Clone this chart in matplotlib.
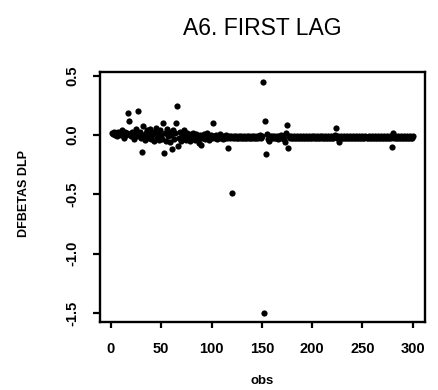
import matplotlib
matplotlib.use("Agg")
import matplotlib.pyplot as plt
from matplotlib.ticker import FormatStrFormatter

plt.rcParams['font.family'] = ['Liberation Sans', 'DejaVu Sans']
plt.rcParams['axes.unicode_minus'] = False

title = "A6. FIRST LAG"
x_label = "obs"
y_label = "DFBETAS DLP"
x_ticks = [0, 50, 100, 150, 200, 250, 300]
y_ticks = [-1.5, -1.0, -0.5, 0.0, 0.5]

# DFBETAS for obs 1..300
dfbetas = [
    0.02, 0.01, 0.03, 0.00, 0.02, -0.01, 0.03, 0.01, 0.02, 0.00,
    0.04, 0.01, -0.02, 0.03, 0.00, 0.02, 0.19, 0.12, 0.01, -0.01,
    0.03, 0.00, -0.03, 0.02, 0.05, -0.01, 0.20, 0.01, 0.03, -0.02,
    -0.14, 0.08, 0.00, -0.04, 0.02, 0.04, -0.02, 0.01, 0.05, -0.03,
    0.00, 0.03, -0.05, 0.02, 0.06, -0.02, 0.01, -0.04, 0.04, 0.00,
    -0.03, 0.10, -0.15, 0.02, -0.05, 0.05, -0.01, 0.03, -0.06, 0.00,
    -0.12, 0.04, -0.03, 0.02, 0.10, 0.25, -0.09, -0.02, 0.03, -0.05,
    0.01, -0.03, 0.04, -0.01, -0.04, 0.02, -0.02, 0.00, -0.05, 0.01,
    -0.03, 0.02, -0.02, -0.04, 0.01, -0.01, -0.03, -0.07, 0.00, -0.085,
    -0.02, 0.01, -0.03, -0.01, 0.02, -0.02, -0.04, -0.01, 0.00, -0.02,
    0.10, -0.01, -0.02, 0.00, -0.03, -0.01, -0.02, 0.01, -0.02, -0.01,
    -0.03, -0.01, -0.02, 0.00, -0.02, -0.11, -0.01, -0.02, -0.01, -0.49,
    -0.02, -0.01, -0.02, -0.01, -0.02, -0.02, -0.01, -0.02, -0.01, -0.02,
    -0.02, -0.01, -0.02, -0.02, -0.01, -0.02, -0.01, -0.02, -0.02, -0.01,
    -0.02, -0.01, -0.02, -0.02, -0.01, -0.02, -0.01, 0.00, -0.02, -0.01,
    0.45, -1.50, 0.12, -0.16, 0.01, -0.03, -0.05, -0.01, -0.02, -0.01,
    -0.02, -0.01, -0.02, -0.02, -0.01, -0.03, -0.01, -0.02, 0.00, -0.02,
    -0.01, -0.03, -0.06, 0.02, 0.09, -0.11, -0.01, -0.02, -0.01, -0.02,
    -0.02, -0.01, -0.02, -0.02, -0.01, -0.02, -0.02, -0.01, -0.02, -0.02,
    -0.01, -0.02, -0.02, -0.01, -0.02, -0.02, -0.01, -0.02, -0.02, -0.01,
    -0.02, -0.01, -0.02, -0.02, -0.01, -0.02, -0.02, -0.01, -0.02, -0.01,
    -0.02, -0.02, -0.01, -0.02, -0.02, -0.01, -0.02, -0.02, -0.01, -0.02,
    -0.02, -0.01, 0.00, 0.06, -0.02, -0.01, -0.06, -0.02, -0.01, -0.02,
    -0.02, -0.01, -0.02, -0.02, -0.01, -0.02, -0.02, -0.01, -0.02, -0.02,
    -0.01, -0.02, -0.02, -0.01, -0.02, -0.02, -0.01, -0.02, -0.02, -0.01,
    -0.02, -0.02, -0.01, -0.02, -0.02, -0.01, -0.02, -0.02, -0.01, -0.02,
    -0.02, -0.01, -0.02, -0.02, -0.01, -0.02, -0.02, -0.01, -0.02, -0.02,
    -0.01, -0.02, -0.02, -0.01, -0.02, -0.02, -0.01, -0.02, -0.10, 0.02,
    -0.02, -0.01, -0.02, -0.02, -0.01, -0.02, -0.02, -0.01, -0.02, -0.02,
    -0.01, -0.02, -0.02, -0.01, -0.02, -0.02, -0.01, -0.02, -0.02, -0.01,
]
obs = list(range(1, len(dfbetas) + 1))

fig = plt.figure(figsize=(4.38, 3.90), dpi=100)
ax = fig.add_axes([0.228, 0.174, 0.742, 0.641])

ax.scatter(obs, dfbetas, s=20, color="black", linewidths=0)

ax.set_xlim(-11, 312)
ax.set_ylim(-1.578, 0.532)
ax.set_xticks(x_ticks)
ax.set_yticks(y_ticks)
ax.yaxis.set_major_formatter(FormatStrFormatter('%.1f'))

for sp in ax.spines.values():
    sp.set_linewidth(1.7)
ax.tick_params(axis='x', length=4, width=1.6, pad=10, labelsize=10.5)
ax.tick_params(axis='y', length=5, width=1.6, pad=10, labelsize=10.5)
for lab in ax.get_xticklabels():
    lab.set_fontweight('bold')
for lab in ax.get_yticklabels():
    lab.set_fontweight('bold')
    lab.set_rotation(90)
    lab.set_va('center')

fig.text(0.598, 0.928, title, ha='center', va='center', fontsize=16.5)
fig.text(0.598, 0.022, x_label, ha='center', va='center', fontsize=9.5, fontweight='bold')
fig.text(0.055, 0.505, y_label, ha='center', va='center', fontsize=9,
         fontweight='bold', rotation=90)

plt.savefig("out.png", dpi=100)
